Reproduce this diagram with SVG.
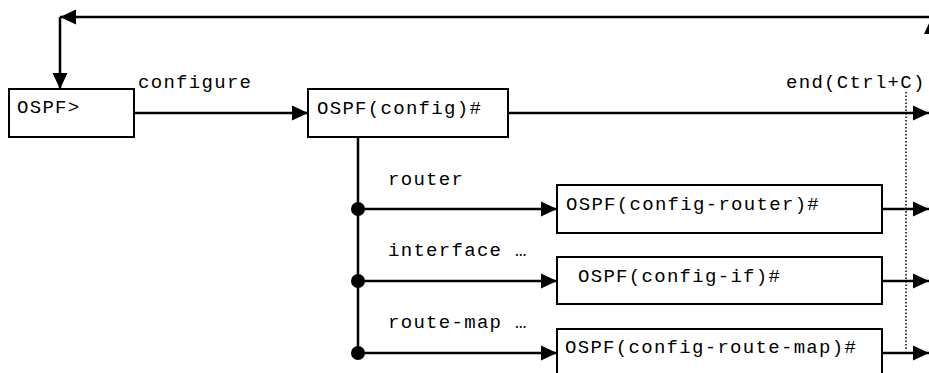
<svg xmlns="http://www.w3.org/2000/svg" width="929" height="373" viewBox="0 0 929 373">
<style>
.box{fill:#fff;stroke:#000;stroke-width:2}
.t{font-family:"Liberation Mono","Courier New",monospace;font-size:19px;letter-spacing:1.3px;fill:#000}
.ln{fill:none;stroke:#000;stroke-width:2.5}
.dot{fill:#000}
.dash{fill:none;stroke:#000;stroke-width:1.5;stroke-dasharray:1.5 2}
</style>
<defs>
<marker id="ah" markerUnits="userSpaceOnUse" markerWidth="18" markerHeight="16" refX="16" refY="7.5" orient="auto" overflow="visible">
<path d="M0,0 L16,7.5 L0,15 Z" fill="#000"/>
</marker>
</defs>
<g id="connectors">
<path class="ln" d="M935,17 H60" marker-end="url(#ah)"/>
<path class="ln" d="M60,17 V89" marker-end="url(#ah)"/>
<path class="ln" d="M931.5,373 V18" marker-end="url(#ah)"/>
<path class="ln" d="M134,113 H308" marker-end="url(#ah)"/>
<path class="ln" d="M508,113 H929" marker-end="url(#ah)"/>
<path class="ln" d="M358,137 V353"/>
<path class="ln" d="M358,209 H557" marker-end="url(#ah)"/>
<path class="ln" d="M358,281 H557" marker-end="url(#ah)"/>
<path class="ln" d="M358,353 H557" marker-end="url(#ah)"/>
<path class="ln" d="M882,209 H929" marker-end="url(#ah)"/>
<path class="ln" d="M882,281 H929" marker-end="url(#ah)"/>
<path class="ln" d="M882,353 H929" marker-end="url(#ah)"/>
<path class="dash" d="M906,92 V350"/>
<circle class="dot" cx="358" cy="209" r="7"/>
<circle class="dot" cx="358" cy="281" r="7"/>
<circle class="dot" cx="358" cy="353" r="7"/>
<text class="t" x="138" y="88">configure</text>
<text class="t" x="786" y="88">end(Ctrl+C)</text>
<text class="t" x="388" y="185">router</text>
<text class="t" x="388" y="256">interface …</text>
<text class="t" x="388" y="328">route-map …</text>
</g>
<g id="n-ospf">
<rect class="box" x="9" y="89" width="125" height="48"/>
<text class="t" x="17" y="113">OSPF&gt;</text>
</g>
<g id="n-config">
<rect class="box" x="308" y="89" width="200" height="48"/>
<text class="t" x="317" y="114">OSPF(config)#</text>
</g>
<g id="n-router">
<rect class="box" x="557" y="185" width="325" height="48"/>
<text class="t" x="566" y="210">OSPF(config-router)#</text>
</g>
<g id="n-if">
<rect class="box" x="557" y="257" width="325" height="47"/>
<text class="t" x="578" y="282">OSPF(config-if)#</text>
</g>
<g id="n-routemap">
<rect class="box" x="557" y="329" width="325" height="50"/>
<text class="t" x="565" y="353">OSPF(config-route-map)#</text>
</g>
</svg>
